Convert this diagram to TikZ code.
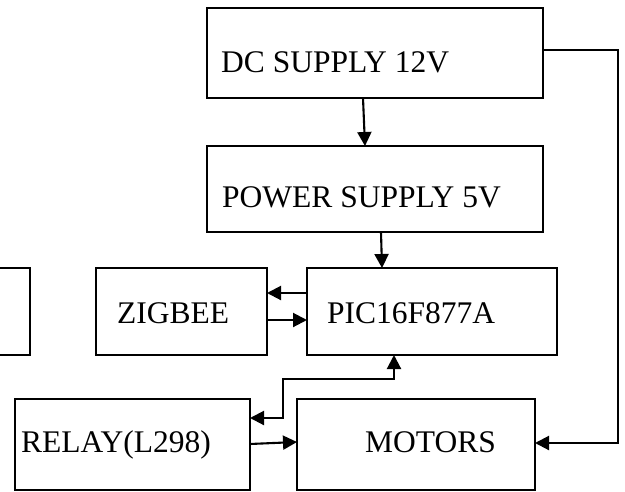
\documentclass[tikz,border=0pt]{standalone}
\usepackage{fontspec}
\setmainfont{Liberation Serif}
\usetikzlibrary{arrows.meta}
\begin{document}
\begin{tikzpicture}[x=1pt,y=-1pt,
  box/.style={draw,line width=2.1pt,rectangle,inner sep=0pt,outer sep=0pt},
  lbl/.style={anchor=base west,inner sep=0pt,font=\fontsize{31.5}{36}\selectfont},
  arr/.style={line width=2.1pt,-{Triangle[length=14pt,width=14pt]}},
  arrb/.style={line width=2.1pt,{Triangle[length=14pt,width=14pt]}-{Triangle[length=14pt,width=14pt]}}]
\clip (0,0) rectangle (625,491);
\useasboundingbox (0,0) rectangle (625,491);
% boxes
\node[box,minimum width=336pt,minimum height=90pt] (dc) at (375,53) {};
\node[box,minimum width=336pt,minimum height=86pt] (ps) at (375,189) {};
\node[box,minimum width=250pt,minimum height=87pt] (pic) at (432,311.5) {};
\node[box,minimum width=171pt,minimum height=87pt] (zig) at (181.5,311.5) {};
\node[box,minimum width=60pt,minimum height=87pt] (lft) at (0,311.5) {};
\node[box,minimum width=235pt,minimum height=91pt] (relay) at (132.5,444.5) {};
\node[box,minimum width=238pt,minimum height=91pt] (mot) at (416,444.5) {};
% labels
\node[lbl] (tdc) at (221,72) {DC SUPPLY 12V};
\node[lbl] (tps) at (222,207) {POWER SUPPLY 5V};
\node[lbl] (tzig) at (117,323) {ZIGBEE};
\node[lbl] (tpic) at (327,323) {PIC16F877A};
\node[lbl] (trelay) at (21,452) {RELAY(L298)};
\node[lbl] (tmot) at (365,452) {MOTORS};
% connectors
\draw[arr] ([xshift=-12pt]dc.south) -- ([xshift=-10pt]ps.north);
\draw[arr] ([yshift=3pt]dc.east) -- ++(75,0) |- ([yshift=1.5pt]mot.east);
\draw[arr] ([xshift=6pt]ps.south) -- ([xshift=-50pt]pic.north);
\draw[arr] ([yshift=18.5pt]pic.west) -- ([yshift=18.5pt]zig.east);
\draw[arr] ([yshift=-8.5pt]zig.east) -- ([yshift=-8.5pt]pic.west);
\draw[arrb] ([yshift=26.5pt]relay.east) -- ++(33,0) -- ++(0,-39) -- ++(111,0) -- ([xshift=-38pt]pic.south);
\draw[arr] ([yshift=0.5pt]relay.east) -- ([yshift=2.5pt]mot.west);
\end{tikzpicture}
\end{document}
